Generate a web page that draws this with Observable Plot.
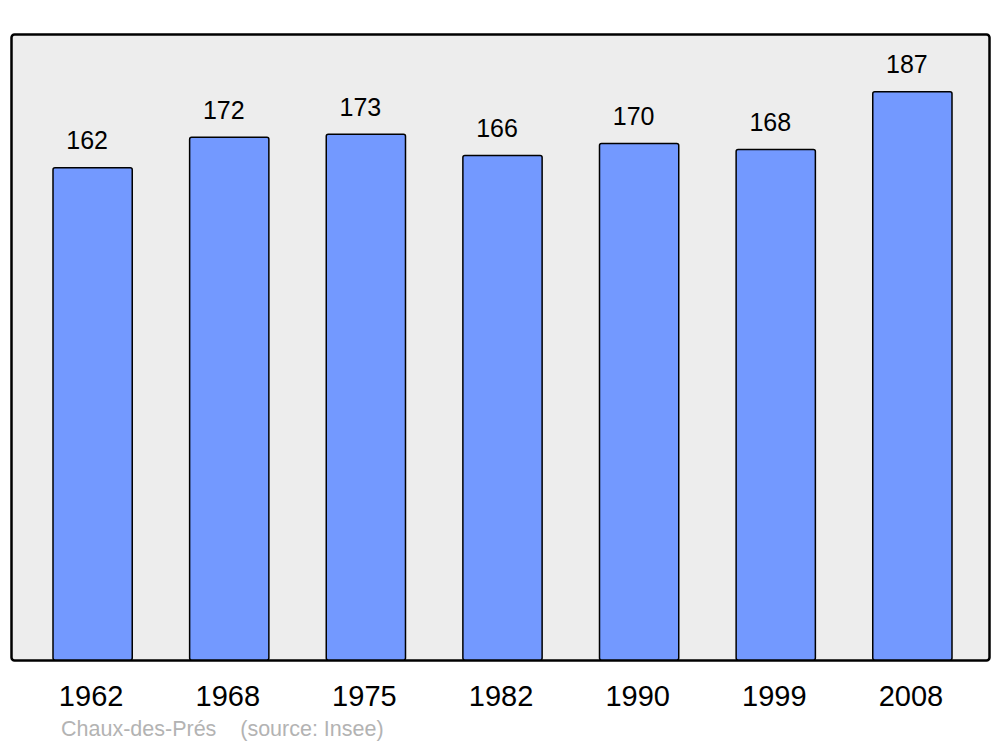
<!DOCTYPE html>
<html>
<head>
<meta charset="utf-8">
<script src="https://cdn.jsdelivr.net/npm/d3@7"></script>
<script src="https://cdn.jsdelivr.net/npm/@observablehq/plot@0.6"></script>
<style>
  html, body { margin: 0; padding: 0; background: #fff; }
  #wrap { position: relative; width: 1000px; height: 747px; font-family: "Liberation Sans", Arial, sans-serif; }
  #caption { position: absolute; left: 61px; top: 719px; font-size: 21.5px; line-height: 21px; color: #b3b3b3; white-space: pre; }
</style>
</head>
<body>
<div id="wrap"><div id="caption">Chaux-des-Prés    (source: Insee)</div></div>
<script>
const years = ["1962", "1968", "1975", "1982", "1990", "1999", "2008"];
const population = [162, 172, 173, 166, 170, 168, 187];
const data = years.map((y, i) => ({year: y, value: population[i]}));

const chart = Plot.plot({
  width: 1000,
  height: 747,
  marginLeft: 11,
  marginRight: 11,
  marginTop: 34,
  marginBottom: 87,
  style: {fontFamily: "Liberation Sans, Arial, sans-serif", background: "transparent"},
  x: {type: "band", domain: years, paddingInner: 0.42, paddingOuter: 0, insetLeft: 42, insetRight: 37, round: false, label: null},
  y: {domain: [0, 206], axis: null},
  marks: [
    Plot.frame({fill: "#ededed", stroke: "#000", strokeWidth: 2.5, rx: 3}),
    Plot.barY(data, {x: "year", y: "value", fill: "#7399ff", stroke: "#000", strokeWidth: 1.5, rx: 2}),
    Plot.text(data, {x: "year", y: "value", text: d => String(d.value), dx: -6, dy: -19, lineAnchor: "bottom", fontSize: 25, fill: "#000"}),
    Plot.axisX({tickSize: 0, tickPadding: 25, fontSize: 29, color: "#000", dx: -2, label: null})
  ]
});
document.getElementById("wrap").prepend(chart);
</script>
</body>
</html>
